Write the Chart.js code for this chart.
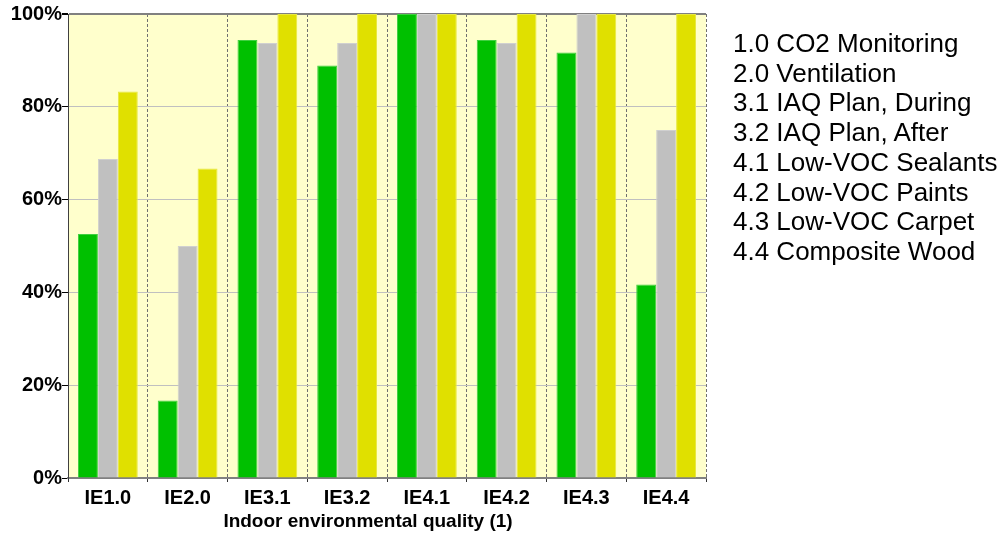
<!DOCTYPE html>
<html>
<head>
<meta charset="utf-8">
<script src="https://cdn.jsdelivr.net/npm/chart.js@4"></script>
<style>
  body { margin: 0; background: #fff; }
  #wrap { position: relative; width: 1008px; height: 537px; }
  #notes {
    position: absolute; left: 733px; top: 29px;
    font-family: "Liberation Sans", Arial, sans-serif;
    font-size: 26px; line-height: 29.7px; color: #000; white-space: nowrap;
  }
  #xtitle {
    position: absolute; left: 0; width: 736px; top: 509px;
    text-align: center; white-space: nowrap;
    font-family: "Liberation Sans", Arial, sans-serif;
    font-size: 19px; font-weight: bold; line-height: 24px; color: #000;
  }
</style>
</head>
<body>
<div id="wrap">
  <canvas id="Chart" width="1008" height="537"></canvas>
  <div id="notes"></div>
  <div id="xtitle"></div>
</div>
<script>
// Data for the bar chart
var categories = ['IE1.0', 'IE2.0', 'IE3.1', 'IE3.2', 'IE4.1', 'IE4.2', 'IE4.3', 'IE4.4'];
var seriesGreen = [52.6, 16.7, 94.4, 88.9, 100, 94.4, 91.7, 41.7];
var seriesGray = [68.75, 50, 93.75, 93.75, 100, 93.75, 100, 75];
var seriesYellow = [83.3, 66.7, 100, 100, 100, 100, 100, 100];
var yTicks = [0, 20, 40, 60, 80, 100];
var xTitle = 'Indoor environmental quality (1)';
var notes = ['1.0 CO2 Monitoring', '2.0 Ventilation', '3.1 IAQ Plan, During', '3.2 IAQ Plan, After',
             '4.1 Low-VOC Sealants', '4.2 Low-VOC Paints', '4.3 Low-VOC Carpet', '4.4 Composite Wood'];

// side notes and axis title as text
document.getElementById('notes').innerHTML = notes.map(function (t) { return '<div>' + t + '</div>'; }).join('');
document.getElementById('xtitle').textContent = xTitle;

// plot background
var plotBg = {
    id: 'plotBg',
    beforeDraw: function (chart) {
        var a = chart.chartArea;
        var c = chart.ctx;
        c.save();
        c.fillStyle = '#FFFFCC';
        c.fillRect(a.left, a.top, a.right - a.left, a.bottom - a.top);
        c.restore();
    }
};

var font = "'Liberation Sans', Arial, sans-serif";

var config = {
    type: 'bar',
    data: {
        labels: categories,
        datasets: [
            { data: seriesGreen, backgroundColor: '#00C000', borderColor: '#40D040', borderWidth: 1 },
            { data: seriesGray, backgroundColor: '#C0C0C0', borderColor: '#D0D0D0', borderWidth: 1 },
            { data: seriesYellow, backgroundColor: '#E0E000', borderColor: '#E8E840', borderWidth: 1 }
        ]
    },
    options: {
        responsive: false,
        animation: false,
        layout: { padding: { left: 0, right: 302, top: 14, bottom: 0 } },
        plugins: { legend: { display: false }, tooltip: { enabled: false } },
        datasets: { bar: { categoryPercentage: 0.75, barPercentage: 1.0 } },
        scales: {
            x: {
                offset: true,
                grid: {
                    offset: true,
                    color: '#707070',
                    lineWidth: 1,
                    tickLength: 4,
                    tickColor: '#303030'
                },
                border: { display: true, color: '#808080', width: 2, dash: [3, 2] },
                ticks: { color: '#000', padding: 4, font: { family: font, size: 20, weight: 'bold' } },
                afterFit: function (s) { s.height = 59; }
            },
            y: {
                min: 0,
                max: 100,
                afterBuildTicks: function (s) { s.ticks = yTicks.map(function (v) { return { value: v }; }); },
                grid: {
                    color: function (ctx) { return (ctx.tick && (ctx.tick.value === 100)) ? '#808080' : '#C0C0C0'; },
                    lineWidth: function (ctx) { return (ctx.tick && ctx.tick.value === 100) ? 2 : 1; },
                    tickLength: 6,
                    tickColor: '#000'
                },
                border: { display: true, color: '#404040', width: 1 },
                ticks: {
                    color: '#000',
                    padding: 0,
                    font: { family: font, size: 20, weight: 'bold' },
                    callback: function (v) { return v + '%'; }
                },
                afterFit: function (s) { s.width = 68; }
            }
        }
    },
    plugins: [plotBg]
};

// Create a chart
var ctx = document.getElementById('Chart').getContext('2d');
var myChart = new Chart(ctx, config);
</script>
</body>
</html>
